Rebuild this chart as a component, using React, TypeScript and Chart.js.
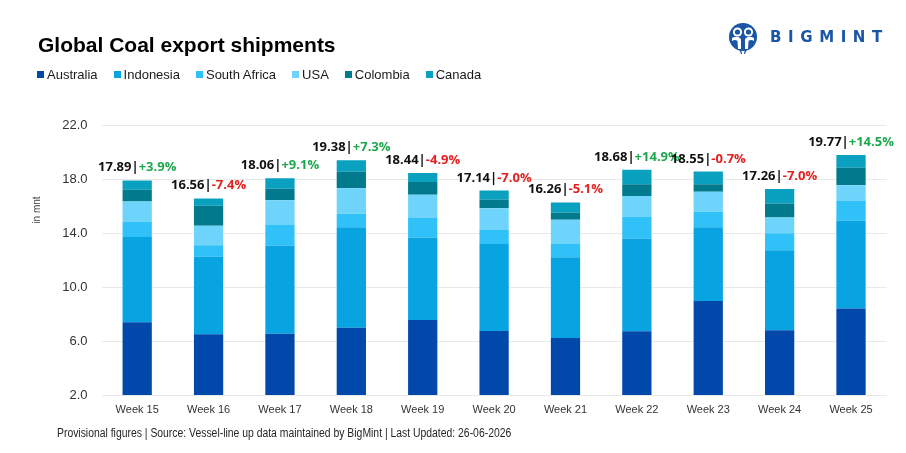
import React, { useEffect, useRef } from "react";
import { Chart, registerables } from "chart.js";

Chart.register(...registerables);

// Weekly coal export shipments by origin, million tonnes
const weeks = ["Week 15", "Week 16", "Week 17", "Week 18", "Week 19", "Week 20", "Week 21", "Week 22", "Week 23", "Week 24", "Week 25"];
const australia = [7.39, 6.5, 6.54, 6.99, 7.56, 6.74, 6.23, 6.72, 8.97, 6.8, 8.4];
const indonesia = [6.32, 5.75, 6.51, 7.44, 6.1, 6.45, 5.98, 6.87, 5.46, 5.93, 6.5];
const southAfrica = [1.14, 0.85, 1.55, 0.99, 1.46, 1.04, 0.98, 1.63, 1.14, 1.26, 1.5];
const usa = [1.48, 1.43, 1.83, 1.9, 1.71, 1.61, 1.8, 1.53, 1.48, 1.15, 1.14];
const colombia = [0.87, 1.48, 0.84, 1.21, 0.94, 0.62, 0.52, 0.87, 0.57, 1.04, 1.29];
const canada = [0.69, 0.55, 0.79, 0.85, 0.67, 0.68, 0.75, 1.06, 0.93, 1.08, 0.94];
// Week-on-week change of the total, %
const weeklyChange = [3.9, -7.4, 9.1, 7.3, -4.9, -7.0, -5.1, 14.9, -0.7, -7.0, 14.5];

const yMin = 2;
const yMax = 22;
const yStep = 4;

const seriesNames = ["Australia", "Indonesia", "South Africa", "USA", "Colombia", "Canada"];
const seriesValues = [australia, indonesia, southAfrica, usa, colombia, canada];
const seriesColors = ["#0049ab", "#08a4e2", "#30c1f8", "#6fd4fc", "#007a8c", "#0aa0bf"];

const UP = "#1ea84e";
const DOWN = "#e3201f";

const totalsPlugin = {
  id: "weekTotals",
  afterDatasetsDraw(chart: any) {
    const { ctx, scales } = chart;
    const x = scales.x;
    const y = scales.y;
    ctx.save();
    ctx.font = "bold 13px 'Open Sans', 'Liberation Sans', sans-serif";
    ctx.textAlign = "left";
    ctx.textBaseline = "alphabetic";
    weeks.forEach((_, i) => {
      const total = seriesValues.reduce((s, d) => s + d[i], 0);
      const chg = weeklyChange[i];
      const head = total.toFixed(2) + "|";
      const tail = (chg > 0 ? "+" : "") + chg.toFixed(1) + "%";
      const w1 = ctx.measureText(head).width;
      const w2 = ctx.measureText(tail).width;
      const cx = x.getPixelForValue(i);
      const top = y.getPixelForValue(total);
      const left = cx - (w1 + w2) / 2;
      const base = top - 9;
      ctx.fillStyle = "#111111";
      ctx.fillText(head, left, base);
      ctx.fillStyle = chg >= 0 ? UP : DOWN;
      ctx.fillText(tail, left + w1, base);
    });
    ctx.restore();
  },
  afterDraw(chart: any) {
    const { ctx } = chart;
    ctx.save();
    ctx.translate(37, 210);
    ctx.rotate(-Math.PI / 2);
    ctx.font = "10px 'Liberation Sans', Arial, sans-serif";
    ctx.fillStyle = "#404040";
    ctx.textAlign = "center";
    ctx.textBaseline = "middle";
    ctx.fillText("in mnt", 0, 0);
    ctx.restore();
  },
};

function Logo() {
  return (
    <div style={{ position: "absolute", left: 728, top: 22, display: "flex", alignItems: "center" }}>
      <svg width="32" height="34" viewBox="0 0 32 34">
        <circle cx="15" cy="15" r="14" fill="#1a55a6" />
        <circle cx="9.5" cy="10" r="4.6" fill="#ffffff" />
        <circle cx="20.5" cy="10" r="4.6" fill="#ffffff" />
        <circle cx="9.5" cy="10" r="2.6" fill="#1a55a6" />
        <circle cx="20.5" cy="10" r="2.6" fill="#1a55a6" />
        <path d="M4 16 Q9.5 13 13 17 L13 27 L10 27 L9.5 19 Q7 17 4 19 Z" fill="#ffffff" />
        <path d="M26 16 Q20.5 13 17 17 L17 27 L20 27 L20.5 19 Q23 17 26 19 Z" fill="#ffffff" />
        <path d="M11 27 L13 32 L14 32 L13 27 Z" fill="#1a55a6" />
        <path d="M19 27 L17 32 L16 32 L17 27 Z" fill="#1a55a6" />
      </svg>
      <span
        style={{
          marginLeft: 10,
          font: "bold 15px 'DejaVu Sans', 'Liberation Sans', sans-serif",
          letterSpacing: "6.6px",
          color: "#1a55a6",
          lineHeight: "15px",
          marginTop: -4,
        }}
      >
        BIGMINT
      </span>
    </div>
  );
}

export default function App() {
  const canvasRef = useRef<HTMLCanvasElement | null>(null);

  useEffect(() => {
    const canvas = canvasRef.current;
    if (!canvas) return;
    const chart = new Chart(canvas, {
      type: "bar",
      data: {
        labels: weeks,
        datasets: seriesNames.map((name, k) => ({
          label: name,
          data: seriesValues[k],
          backgroundColor: seriesColors[k],
          borderWidth: 0,
          barPercentage: 0.41,
          categoryPercentage: 1,
        })),
      },
      options: {
        responsive: false,
        animation: false,
        layout: { padding: { left: 38, right: 19.3, top: 125, bottom: 28 } },
        plugins: {
          legend: { display: false },
          title: { display: false },
          tooltip: { enabled: false },
        },
        scales: {
          x: {
            stacked: true,
            grid: { display: false, drawTicks: false, tickLength: 0 },
            border: { display: false },
            ticks: {
              color: "#333333",
              padding: 8,
              font: { family: "'Liberation Sans', Arial, sans-serif", size: 11 },
            },
            afterFit(scale: any) {
              scale.height = 30;
            },
          },
          y: {
            stacked: true,
            min: yMin,
            max: yMax,
            grid: { color: "#e9e9e9", lineWidth: 1, drawTicks: false },
            border: { display: false },
            ticks: {
              stepSize: yStep,
              padding: 14,
              color: "#333333",
              font: { family: "'Liberation Sans', Arial, sans-serif", size: 13 },
              callback: (v: any) => Number(v).toFixed(1),
            },
            afterFit(scale: any) {
              scale.width = 63.5;
            },
          },
        },
      },
      plugins: [totalsPlugin],
    });
    return () => chart.destroy();
  }, []);

  return (
    <div style={{ position: "absolute", left: 0, top: 0, width: 906, height: 453, background: "#ffffff", overflow: "hidden" }}>
      <canvas ref={canvasRef} width={906} height={453} style={{ position: "absolute", left: 0, top: 0 }} />
      <div
        style={{
          position: "absolute",
          left: 38,
          top: 34,
          font: "bold 21px 'Liberation Sans', Arial, sans-serif",
          lineHeight: "21px",
          color: "#000000",
          whiteSpace: "nowrap",
        }}
      >
        Global Coal export shipments
      </div>
      <div
        style={{
          position: "absolute",
          left: 37,
          top: 68,
          display: "flex",
          gap: 16,
          font: "13px 'Liberation Sans', Arial, sans-serif",
          lineHeight: "13px",
          color: "#1a1a1a",
          whiteSpace: "nowrap",
        }}
      >
        {seriesNames.map((name, k) => (
          <span key={name} style={{ display: "flex", alignItems: "center" }}>
            <span style={{ width: 7, height: 7, background: seriesColors[k], marginRight: 3, display: "inline-block" }} />
            {name}
          </span>
        ))}
      </div>
      <Logo />
      <div
        style={{
          position: "absolute",
          left: 57,
          top: 426.6,
          font: "12px 'Liberation Sans', Arial, sans-serif",
          lineHeight: "12px",
          color: "#262626",
          whiteSpace: "nowrap",
          transform: "scaleX(0.866)",
          transformOrigin: "0 0",
        }}
      >
        Provisional figures | Source: Vessel-line up data maintained by BigMint | Last Updated: 26-06-2026
      </div>
    </div>
  );
}
